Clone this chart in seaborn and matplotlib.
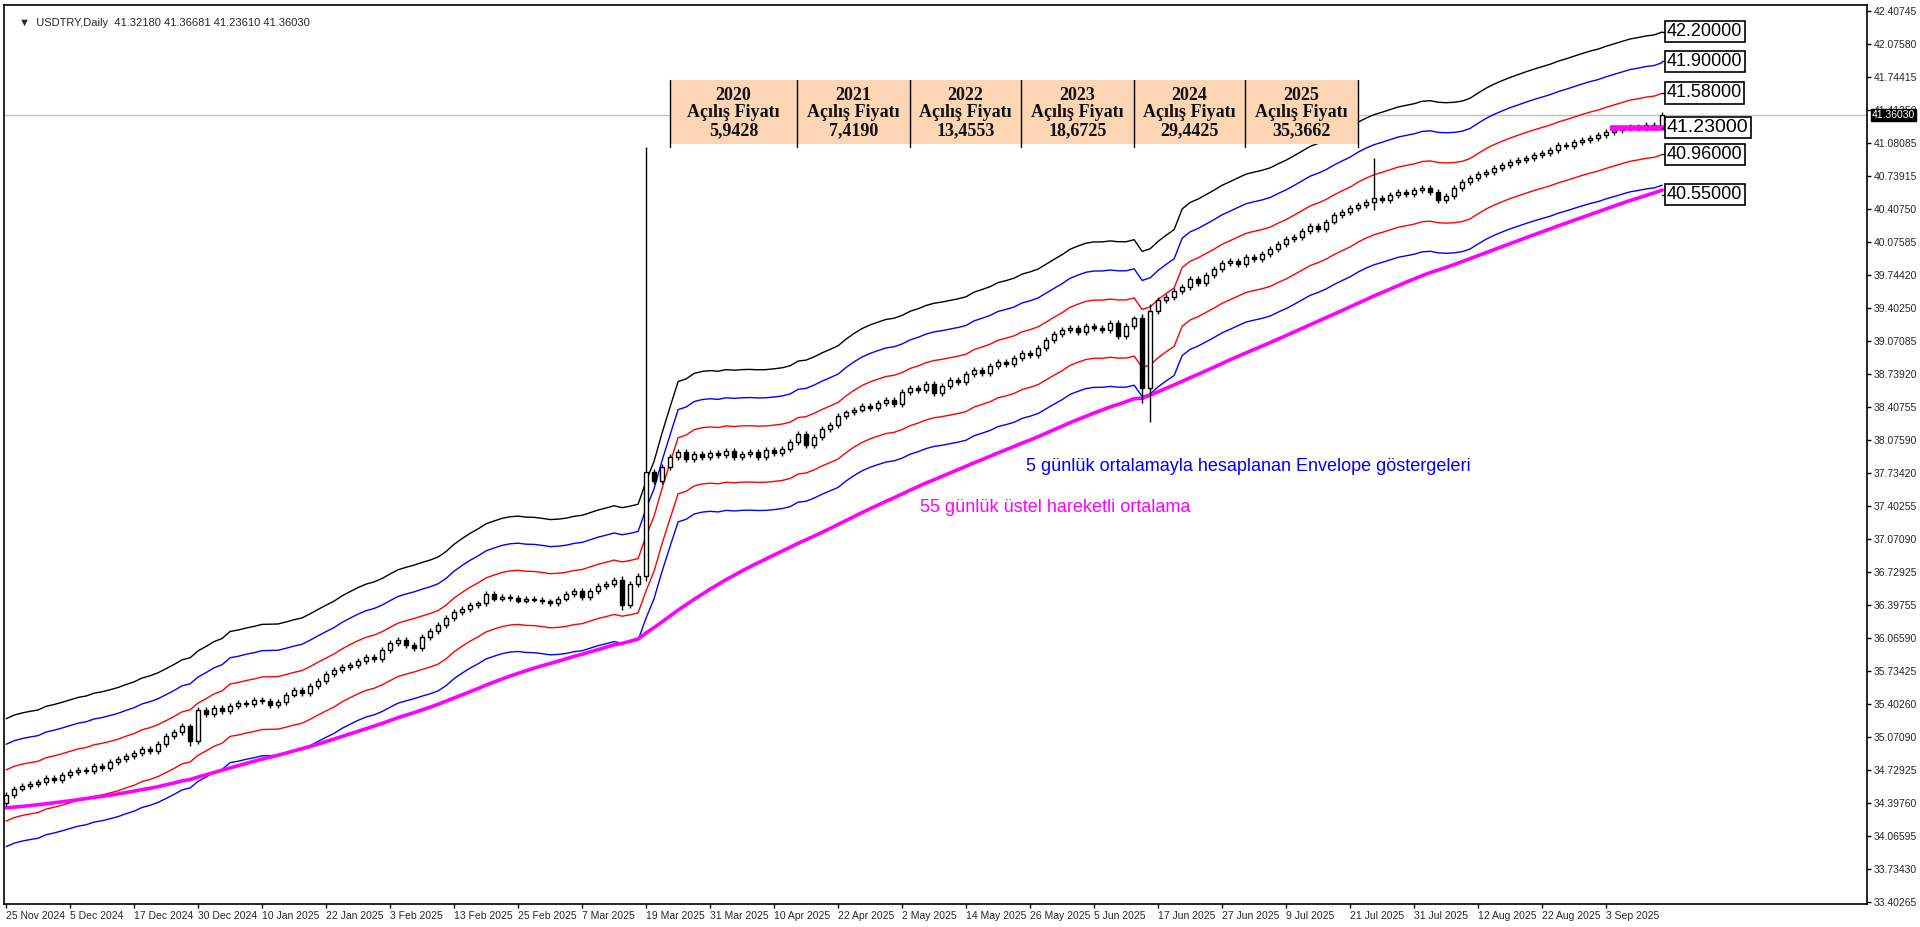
import numpy as np
import pandas as pd
import matplotlib
matplotlib.use("Agg")
import matplotlib.pyplot as plt
import seaborn as sns

# ---------------- data ----------------
closes = [
    34.48, 34.55, 34.58, 34.60, 34.62, 34.66, 34.64, 34.69, 34.72,
    34.74, 34.73, 34.78, 34.76, 34.82, 34.85, 34.88, 34.91,
    34.95, 34.93, 35.00, 35.08, 35.12, 35.18, 35.03, 35.34,
    35.30, 35.36, 35.33, 35.38, 35.41, 35.40, 35.44, 35.43,
    35.39, 35.42, 35.50, 35.55, 35.52, 35.59, 35.64, 35.71,
    35.75, 35.78, 35.80, 35.84, 35.88, 35.86, 35.95, 36.02,
    36.05, 36.00, 35.97, 36.08, 36.14, 36.20, 36.27, 36.33,
    36.36, 36.40, 36.42, 36.52, 36.47, 36.49, 36.48, 36.45,
    36.47, 36.46, 36.44, 36.42, 36.47, 36.52, 36.55, 36.49,
    36.55, 36.60, 36.62, 36.66, 36.40, 36.62, 36.70,
    37.75,
    37.66, 37.80, 37.90, 37.95, 37.88, 37.93, 37.90, 37.94,
    37.92, 37.96, 37.90, 37.93, 37.95, 37.90, 37.97, 37.94,
    37.98, 38.05, 38.13, 38.02, 38.10, 38.18, 38.22, 38.31,
    38.35, 38.38, 38.42, 38.40, 38.45, 38.48, 38.44, 38.56,
    38.60, 38.58, 38.64, 38.55, 38.62, 38.68, 38.66, 38.74,
    38.78, 38.75, 38.82, 38.86, 38.84, 38.90, 38.95, 38.93,
    39.00, 39.08, 39.14, 39.18, 39.20, 39.16, 39.22, 39.20,
    39.18, 39.25, 39.12, 39.22, 39.30, 38.60, 39.38, 39.49,
    39.52, 39.58, 39.62, 39.70, 39.66, 39.74, 39.80, 39.86,
    39.88, 39.85, 39.92, 39.90, 39.95, 40.00, 40.05, 40.10,
    40.12, 40.18, 40.23, 40.20, 40.28, 40.35, 40.38, 40.42,
    40.45, 40.48, 40.52, 40.50, 40.55, 40.58, 40.56, 40.60,
    40.62, 40.58, 40.50, 40.54, 40.62, 40.68, 40.72, 40.76,
    40.78, 40.82, 40.85, 40.88, 40.90, 40.92, 40.95, 40.97,
    41.00, 41.05, 41.04, 41.08, 41.10, 41.12, 41.15, 41.18,
    41.20, 41.22, 41.24, 41.22, 41.26, 41.25, 41.3603,
]
first_open = 34.40
# notable wick extremes: bar index -> (high, low)
special_hl = {80: (41.03, 36.65), 142: (39.35, 38.45), 143: (39.45, 38.25),
              171: (40.92, 40.40), 77: (36.70, 36.35), 23: (35.20, 34.98)}
ema_seed = 34.35

date_labels = ["25 Nov 2024", "5 Dec 2024", "17 Dec 2024", "30 Dec 2024", "10 Jan 2025",
               "22 Jan 2025", "3 Feb 2025", "13 Feb 2025", "25 Feb 2025", "7 Mar 2025",
               "19 Mar 2025", "31 Mar 2025", "10 Apr 2025", "22 Apr 2025", "2 May 2025",
               "14 May 2025", "26 May 2025", "5 Jun 2025", "17 Jun 2025", "27 Jun 2025",
               "9 Jul 2025", "21 Jul 2025", "31 Jul 2025", "12 Aug 2025", "22 Aug 2025",
               "3 Sep 2025"]
price_labels = ["42.40745", "42.07580", "41.74415", "41.41250", "41.08085", "40.73915",
                "40.40750", "40.07585", "39.74420", "39.40250", "39.07085", "38.73920",
                "38.40755", "38.07590", "37.73420", "37.40255", "37.07090", "36.72925",
                "36.39755", "36.06590", "35.73425", "35.40260", "35.07090", "34.72925",
                "34.39760", "34.06595", "33.73430", "33.40265"]
env_pcts = [0.0225, 0.015, 0.0075, -0.0075, -0.015]
env_colors = ["black", "blue", "red", "red", "blue"]
years = ["2020", "2021", "2022", "2023", "2024", "2025"]
open_prices = ["5,9428", "7,4190", "13,4553", "18,6725", "29,4425", "35,3662"]
right_labels = [42.20, 41.90, 41.58, 41.23, 40.96, 40.55]
last_quote = [41.32180, 41.36681, 41.23610, 41.36030]

n = len(closes)
assert n == 208
idx = np.arange(n)
c = np.array(closes)
o = np.concatenate([[first_open], c[:-1]])
h = np.maximum(o, c) + 0.03
l = np.minimum(o, c) - 0.03
for k, (hh, ll) in special_hl.items():
    h[k], l[k] = hh, ll
o[80] = 36.70
df = pd.DataFrame({"i": idx, "open": o, "high": h, "low": l, "close": c})
sma = df["close"].rolling(5, min_periods=1).mean()
ema = pd.concat([pd.Series([ema_seed]), df["close"]]).ewm(span=55, adjust=False).mean().iloc[1:].values

# ---------------- figure ----------------
sns.set_theme(style="white")
plt.rcParams['font.family'] = ['Liberation Sans', 'DejaVu Sans']
fig = plt.figure(figsize=(19.2, 9.27), dpi=100)
ax = fig.add_axes([4/1920, (927-904)/927, (1867-4)/1920, (904-5)/927])
ax.set_facecolor("white")
y_top, y_bot = 42.468, 33.383
ax.set_ylim(y_bot, y_top)
ax.set_xlim(-0.26, 232.6)

# envelopes
for p, col in zip(env_pcts, env_colors):
    sns.lineplot(x=df["i"], y=sma * (1 + p), color=col, lw=1.0, ax=ax)
sns.lineplot(x=df["i"], y=ema, color="#FF00FF", lw=2.6, ax=ax)

# candles
up = c >= o
ax.vlines(idx, l, h, color="black", lw=1.0, zorder=3)
body_lo = np.minimum(o, c)
body_h = np.maximum(np.abs(c - o), 0.008)
ax.bar(idx[up], body_h[up], bottom=body_lo[up], width=0.5, color="white",
       edgecolor="black", lw=1.0, zorder=4)
ax.bar(idx[~up], body_h[~up], bottom=body_lo[~up], width=0.5, color="black",
       edgecolor="black", lw=1.0, zorder=4)

# last price line
ax.axhline(last_quote[3], color="#C0C0C0", lw=1.0, zorder=1)

# magenta marker segment
ax.hlines(right_labels[3], 200.5, 207.6, color="#FF00FF", lw=4, zorder=5)

# right labels with leaders
for j, v in enumerate(right_labels):
    ax.plot([n-1, 207.6], [v, v], color="black", lw=1.0, zorder=5)
    ax.text(207.6, v, f"{v:.5f}", fontsize=13 if j != 3 else 14, va="center", ha="left",
            color="black", zorder=6,
            bbox=dict(boxstyle="square,pad=0.12", fc="white", ec="black", lw=1.2))

# table of yearly opening prices
cell_edges_px = [670, 797, 910, 1021, 1134, 1245, 1358]
def px2x(px):
    return (px - 6.1) / 8.0
def py2y(py):
    return 42.40745 - (py - 11) * 0.010106
ax.fill_between([px2x(670), px2x(1358)], py2y(144), py2y(80), color="#FCD5B4", zorder=6, lw=0)
for e in cell_edges_px:
    ax.plot([px2x(e), px2x(e)], [py2y(147), py2y(80)], color="black", lw=1.0, zorder=7)
for k in range(6):
    xc = px2x((cell_edges_px[k] + cell_edges_px[k+1]) / 2)
    for txt, py in ((years[k], 96), ("Açılış Fiyatı", 113), (open_prices[k], 131)):
        ax.text(xc, py2y(py), txt, fontsize=13, fontweight="bold", ha="center", va="center",
                family=["Liberation Serif", "DejaVu Serif"], zorder=8, color="#111111")

# annotations
ax.text(px2x(1026), py2y(466), "5 günlük ortalamayla hesaplanan Envelope göstergeleri",
        color="blue", fontsize=13, va="center", ha="left")
ax.text(px2x(920), py2y(507), "55 günlük üstel hareketli ortalama",
        color="#FF00FF", fontsize=13, va="center", ha="left")
ax.text(0.008, 0.985, "▼  USDTRY,Daily  " + " ".join(f"{q:.5f}" for q in last_quote),
        transform=ax.transAxes, fontsize=8, va="top", ha="left")

# axes
ax.yaxis.tick_right()
yt = np.linspace(42.40745, 33.40265, len(price_labels))
ax.set_yticks(yt)
ax.set_yticklabels(price_labels, fontsize=7.5)
ax.set_xticks(np.arange(len(date_labels)) * 8)
ax.set_xticklabels(date_labels, fontsize=7.5, ha="left")
ax.tick_params(axis="both", length=3, width=1, color="black", direction="out", pad=2,
               left=False, right=True, bottom=True)
ax.set_xlabel("")
ax.set_ylabel("")
for s in ax.spines.values():
    s.set_color("black")
    s.set_linewidth(1.2)
ax.text(1.0025, last_quote[3], f"{last_quote[3]:.5f}", transform=ax.get_yaxis_transform(),
        fontsize=7.5, color="white", va="center", ha="left",
        bbox=dict(boxstyle="square,pad=0.1", fc="black", ec="black"))
if ax.get_legend():
    ax.get_legend().remove()
fig.savefig("out.png", dpi=100, facecolor="white")
